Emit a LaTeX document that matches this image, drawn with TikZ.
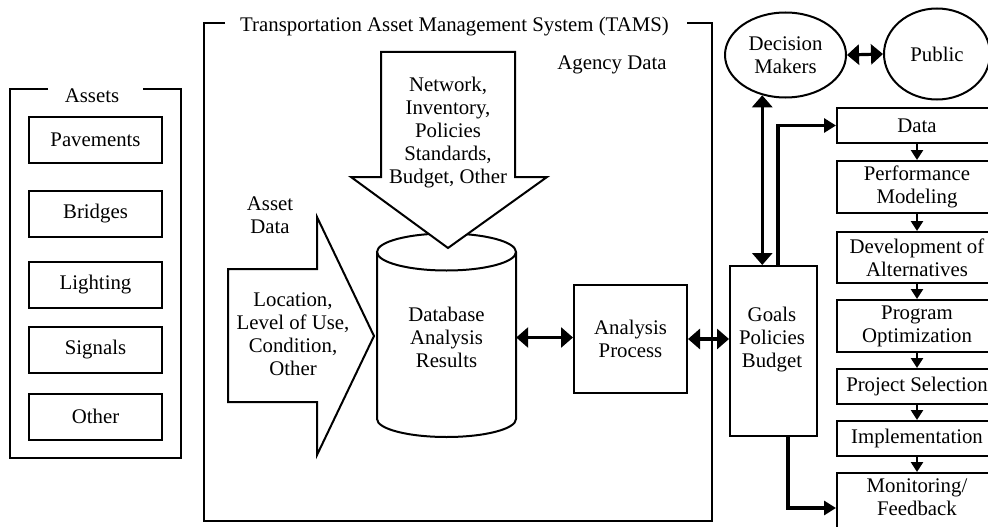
\documentclass[tikz,border=0pt]{standalone}
\usepackage{fontspec}
\setmainfont{Liberation Serif}
\usetikzlibrary{arrows.meta,shapes.geometric}
\begin{document}
\begin{tikzpicture}[x=1pt,y=-1pt,
  every node/.style={font=\fontsize{20.8}{23}\selectfont, align=center, inner sep=0pt},
  frame/.style={line width=2pt},
  box/.style={draw, line width=2pt},
  oval/.style={draw, ellipse, line width=2pt},
  blockarrow/.style={draw, fill=white, line width=2pt, line join=miter},
  bigtwo/.style={line width=3.2pt, {Triangle[length=12pt,width=20pt]}-{Triangle[length=12pt,width=20pt]}},
  feed/.style={line width=3.2pt, -{Triangle[length=12pt,width=14pt]}},
  flowstep/.style={line width=2.7pt, -{Triangle[length=10pt,width=12pt]}},
  assetbox/.style={box, minimum width=133pt, minimum height=46pt},
  stepbox/.style={box, minimum width=160pt},
  ]
\useasboundingbox (0,0) rectangle (988,527);
\clip (0,0) rectangle (988,527);

% ---- Assets column ----
\draw[frame] (48,89) -- (10,89) -- (10,458) -- (181,458) -- (181,89) -- (143,89);
\node (assetstitle) at (92,96) {Assets};
\node[assetbox] (pav) at (95.5,140)   {Pavements};
\node[assetbox] (bri) at (95.5,213.5) {Bridges};
\node[assetbox] (lig) at (95.5,285)   {Lighting};
\node[assetbox] (sig) at (95.5,349.5) {Signals};
\node[assetbox] (oth) at (95.5,416.5) {Other};

% ---- TAMS frame ----
\draw[frame] (225,23) -- (204,23) -- (204,521) -- (712,521) -- (712,23) -- (687,23);
\node (tamstitle) at (454.5,27) {Transportation Asset Management System (TAMS)};
\node (agencylabel) at (612,65) {Agency Data};
\node (assetlabel) at (270,215) {Asset\\Data};

% database cylinder
\draw[line width=2pt] (377,252) -- (377,419)
  arc[start angle=180, end angle=0, x radius=69.5, y radius=18] -- (516,252);
\draw[line width=2pt] (446.5,252) ellipse[x radius=69.5, y radius=18.5];
\node[minimum width=139pt] (db) at (446.5,337.5) {Database\\Analysis\\Results};

% agency data block arrow (down)
\draw[blockarrow] (381,52) -- (515,52) -- (515,177) -- (547,177) -- (448,248)
  -- (351,177) -- (381,177) -- cycle;
\node (agencytext) at (448,133) {Network,\\Inventory,\\Policies\\Standards,\\Budget, Other};

% asset data block arrow (right)
\draw[blockarrow] (228,269) -- (317,269) -- (317,217) -- (374,336) -- (317,455)
  -- (317,402) -- (228,402) -- cycle;
\node (assettext) at (293,334.5) {Location,\\Level of Use,\\Condition,\\Other};

\node[box, minimum width=113pt, minimum height=108pt] (ap) at (630.5,339) {Analysis\\Process};

% ---- Goals and decision makers ----
\node[box, minimum width=87pt, minimum height=170pt] (gp) at (773.5,351) {};
\node (gptext) at (772,340) {Goals\\Policies\\Budget};
\node[oval, minimum width=121pt, minimum height=85pt] (dm) at (785.5,55) {Decision\\Makers};
\node[oval, minimum width=106pt, minimum height=91pt] (pub) at (937,54) {Public};

% ---- process steps ----
\node[stepbox, minimum height=35pt] (data) at (917,125.5) {Data};
\node[stepbox, minimum height=52pt] (perf) at (917,187)   {Performance\\Modeling};
\node[stepbox, minimum height=51pt] (dev)  at (917,257.5) {Development of\\Alternatives};
\node[stepbox, minimum height=52pt] (prog) at (917,326)   {Program\\Optimization};
\node[stepbox, minimum height=35pt] (proj) at (917,386.5) {Project Selection};
\node[stepbox, minimum height=35pt] (impl) at (917,438.5) {Implementation};
\node[stepbox, minimum height=70pt] (mon)  at (917,508)   {};
\node (montext) at (917,497.5) {Monitoring/\\Feedback};

% ---- connectors ----
\draw[bigtwo] (db.east) -- (db.east -| ap.west);
\draw[bigtwo] (ap.east) -- (ap.east -| gp.west);
\draw[bigtwo] (dm.east) -- (pub.west);
\draw[bigtwo] (dm.240) -- (dm.240 |- gp.north);
\draw[feed] ([xshift=4.5pt]gp.north) |- (data.west);
\draw[feed] ([xshift=14.5pt]gp.south) |- (mon.west);
\draw[flowstep] (data.south) -- (perf.north);
\draw[flowstep] (perf.south) -- (dev.north);
\draw[flowstep] (dev.south)  -- (prog.north);
\draw[flowstep] (prog.south) -- (proj.north);
\draw[flowstep] (proj.south) -- (impl.north);
\draw[flowstep] (impl.south) -- (mon.north);
\end{tikzpicture}
\end{document}
